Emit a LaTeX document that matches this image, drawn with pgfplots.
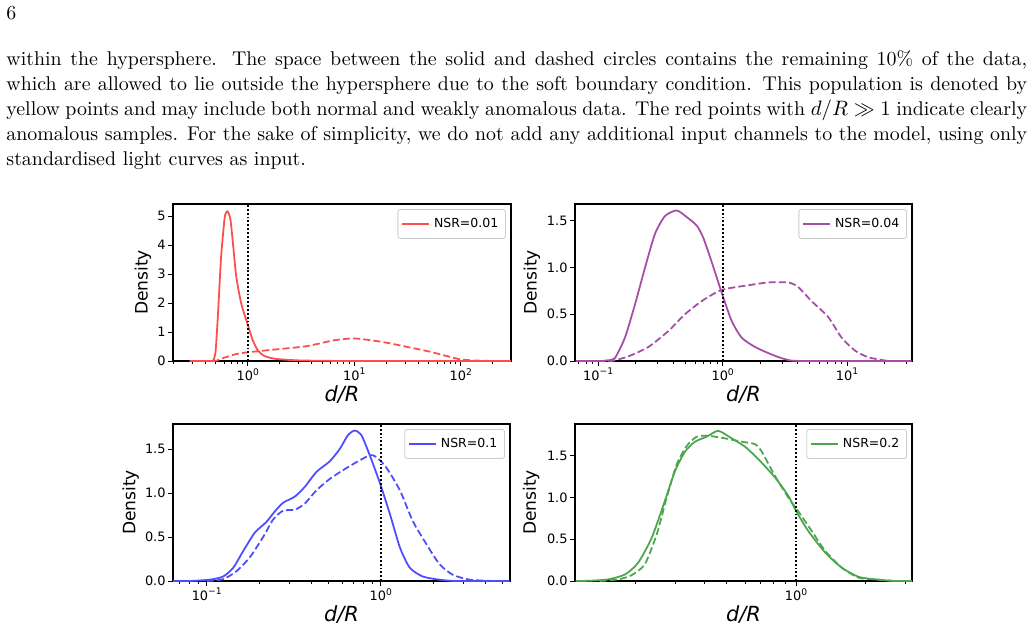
\documentclass[border=0pt]{standalone}
\usepackage{fontspec}
\usepackage{pgfplots}
\pgfplotsset{compat=1.18}
\newfontfamily\dv{DejaVu Sans}[ItalicFont={DejaVu Sans Oblique}]
\newfontfamily\dvi{DejaVu Sans Oblique}
\newcommand\tfont{\dv\fontsize{6.2}{7.4}\selectfont}
\newcommand\lfont{\dv\fontsize{8.2}{9.8}\selectfont}
\newcommand\gfont{\dv\fontsize{6}{7.2}\selectfont}
\newcommand\supr[1]{\raisebox{2.6pt}{\fontsize{4.4}{5}\selectfont #1}}
\definecolor{cred}{RGB}{255,77,77}
\definecolor{cpur}{RGB}{166,77,166}
\definecolor{cblue}{RGB}{77,77,255}
\definecolor{cgreen}{RGB}{77,166,77}
\pgfplotsset{
  panel/.style={
    scale only axis, height=75.36pt, ymin=0,
    axis line style={line width=0.6pt, black},
    every tick/.style={black, line width=0.45pt},
    major tick length=2.25pt, minor tick length=1.4pt,
    tick align=outside, tick pos=left,
    ticklabel style={font=\tfont},
    xticklabel style={yshift=2.3pt},
    yticklabel style={xshift=2.2pt},
    label style={font=\lfont},
    xlabel={\dvi d/R}, ylabel={Density},
    every axis x label/.style={at={(axis description cs:0.5,-0.215)}, anchor=center},
    legend style={at={(1,1)}, anchor=north east, xshift=-2.4pt, yshift=-2.4pt,
      draw=black!20, line width=0.4pt, rounded corners=1.2pt, font=\gfont,
      inner xsep=1.5pt, inner ysep=2pt, fill=white},
    legend cell align=left,
    legend image code/.code={\draw[##1] (0pt,0pt) -- (13pt,0pt);},
  },
  kde/.style={line width=0.85pt, smooth, tension=0.4},
  kded/.style={line width=0.85pt, smooth, tension=0.4, dash pattern=on 3.4pt off 1.5pt},
  vline/.style={black, line width=0.9pt, dash pattern=on 0.9pt off 0.95pt, forget plot},
}
\begin{document}
\begin{tikzpicture}
\useasboundingbox (0,0) rectangle (496.32pt,-302.4pt);
\node[anchor=base west, inner sep=0] at (2.88pt,-9.6pt) {\fontsize{9.55}{12}\selectfont 6};
\node[anchor=base west, inner sep=0] at (2.88pt,-31.44pt) {\parbox[t]{490pt}{\fontsize{9.55}{12}\selectfont\parindent=0pt\tolerance=10000
within the hypersphere. The space between the solid and dashed circles contains the remaining 10\% of the data,\linebreak
which are allowed to lie outside the hypersphere due to the soft boundary condition. This population is denoted by\linebreak
yellow points and may include both normal and weakly anomalous data. The red points with $d/R \gg 1$ indicate clearly\linebreak
anomalous samples. For the sake of simplicity, we do not add any additional input channels to the model, using only\linebreak
standardised light curves as input.}};

% Top left
\begin{semilogxaxis}[panel, at={(83.04pt,-173.28pt)}, anchor=south west, width=162.24pt,
  xmin=0.1988, xmax=296.6, ymax=5.414,
  xtick={1,10,100}, xticklabels={10\supr{0},10\supr{1},10\supr{2}},
  minor xtick={0.2,0.3,0.4,0.5,0.6,0.7,0.8,0.9,2,3,4,5,6,7,8,9,20,30,40,50,60,70,80,90,200},
  ytick={0,1,2,3,4,5}, yticklabels={0,1,2,3,4,5},
  ylabel style={at={(axis description cs:-0.089,0.5)}, anchor=center}]
\addplot[kde, cred] coordinates {(0.285,0) (0.40,0) (0.465,0.0) (0.48,0.05) (0.50,0.36) (0.526,1.62) (0.545,2.7) (0.565,3.69) (0.608,4.95) (0.643,5.16) (0.687,4.9) (0.728,4.03) (0.782,2.89) (0.871,1.97) (1.007,1.22) (1.12,0.70) (1.25,0.36) (1.44,0.17) (1.86,0.07) (3.08,0.02) (6,0.005) (10,0) (300,0)};
\addlegendentry{NSR=0.01}
\addplot[kded, cred, forget plot] coordinates {(0.3,0) (0.45,0) (0.507,0.01) (0.586,0.1) (0.782,0.24) (1.0,0.30) (1.73,0.39) (3.55,0.51) (6.37,0.71) (9.8,0.78) (14,0.72) (20.2,0.63) (31.1,0.49) (51.5,0.32) (73.9,0.17) (98.5,0.06) (131,0.02) (202,0.0)};
\addplot[vline] coordinates {(1,0) (1,5.414)};
\end{semilogxaxis}

% Top right
\begin{semilogxaxis}[panel, at={(276pt,-173.28pt)}, anchor=south west, width=161.76pt,
  xmin=0.0651, xmax=33.2, ymax=1.679,
  xtick={0.1,1,10}, xticklabels={10\supr{−1},10\supr{0},10\supr{1}},
  minor xtick={0.07,0.08,0.09,0.2,0.3,0.4,0.5,0.6,0.7,0.8,0.9,2,3,4,5,6,7,8,9,20,30},
  ytick={0,0.5,1,1.5}, yticklabels={0.0,0.5,1.0,1.5},
  ylabel style={at={(axis description cs:-0.128,0.5)}, anchor=center}]
\addplot[kde, cpur] coordinates {(0.066,0) (0.103,0.0) (0.12,0.008) (0.136,0.03) (0.164,0.25) (0.198,0.61) (0.238,1.0) (0.286,1.36) (0.344,1.55) (0.427,1.61) (0.513,1.54) (0.618,1.45) (0.698,1.32) (0.816,1.06) (0.982,0.73) (1.18,0.43) (1.42,0.25) (1.82,0.15) (2.47,0.07) (3.17,0.02) (4.3,0) (33,0)};
\addlegendentry{NSR=0.04}
\addplot[kded, cpur, forget plot] coordinates {(0.1,0) (0.128,0) (0.175,0.05) (0.253,0.15) (0.366,0.32) (0.498,0.50) (0.678,0.64) (0.98,0.76) (1.61,0.81) (2.32,0.84) (3.37,0.84) (4.05,0.79) (5.18,0.64) (7.05,0.47) (9.03,0.25) (11.6,0.11) (14.8,0.04) (20.1,0.005) (23,0)};
\addplot[vline] coordinates {(1,0) (1,1.679)};
\end{semilogxaxis}

% Bottom left
\begin{semilogxaxis}[panel, at={(83.04pt,-278.88pt)}, anchor=south west, width=161.76pt,
  xmin=0.0640, xmax=5.534, ymax=1.785,
  xtick={0.1,1}, xticklabels={10\supr{−1},10\supr{0}},
  minor xtick={0.07,0.08,0.09,0.2,0.3,0.4,0.5,0.6,0.7,0.8,0.9,2,3,4,5},
  ytick={0,0.5,1,1.5}, yticklabels={0.0,0.5,1.0,1.5},
  ylabel style={at={(axis description cs:-0.1255,0.5)}, anchor=center}]
\addplot[kde, cblue] coordinates {(0.064,0) (0.0798,0) (0.104,0.015) (0.124,0.05) (0.142,0.15) (0.162,0.34) (0.189,0.55) (0.220,0.67) (0.246,0.79) (0.275,0.89) (0.321,0.96) (0.366,1.07) (0.427,1.24) (0.509,1.36) (0.581,1.50) (0.649,1.66) (0.709,1.71) (0.774,1.66) (0.865,1.43) (0.987,1.12) (1.13,0.76) (1.29,0.38) (1.47,0.15) (1.75,0.05) (2.18,0.015) (2.72,0) (5.5,0)};
\addlegendentry{NSR=0.1}
\addplot[kded, cblue, forget plot] coordinates {(0.1,0) (0.124,0.02) (0.148,0.11) (0.177,0.27) (0.211,0.50) (0.241,0.70) (0.275,0.80) (0.321,0.81) (0.366,0.88) (0.427,1.03) (0.509,1.16) (0.607,1.26) (0.724,1.35) (0.865,1.43) (0.944,1.41) (1.077,1.29) (1.29,1.03) (1.53,0.68) (1.83,0.42) (2.18,0.19) (2.60,0.07) (3.25,0.015) (4.42,0)};
\addplot[vline] coordinates {(1,0) (1,1.785)};
\end{semilogxaxis}

% Bottom right
\begin{semilogxaxis}[panel, at={(276pt,-278.88pt)}, anchor=south west, width=161.76pt,
  xmin=0.1094, xmax=3.194, ymax=1.882,
  xtick={1}, xticklabels={10\supr{0}},
  minor xtick={0.2,0.3,0.4,0.5,0.6,0.7,0.8,0.9,2,3},
  ytick={0,0.5,1,1.5}, yticklabels={0.0,0.5,1.0,1.5},
  ylabel style={at={(axis description cs:-0.1304,0.5)}, anchor=center}]
\addplot[kde, cgreen] coordinates {(0.11,0) (0.127,0.003) (0.153,0.02) (0.181,0.08) (0.206,0.22) (0.236,0.52) (0.269,0.96) (0.298,1.32) (0.329,1.55) (0.364,1.67) (0.409,1.73) (0.459,1.80) (0.525,1.71) (0.6,1.61) (0.686,1.46) (0.811,1.24) (0.926,1.02) (1.0,0.84) (1.13,0.60) (1.34,0.34) (1.58,0.16) (1.87,0.05) (2.2,0.02) (2.69,0) (3.2,0)};
\addlegendentry{NSR=0.2}
\addplot[kded, cgreen, forget plot] coordinates {(0.14,0) (0.169,0.02) (0.193,0.07) (0.22,0.20) (0.248,0.56) (0.274,1.0) (0.303,1.40) (0.335,1.62) (0.37,1.73) (0.416,1.74) (0.491,1.71) (0.581,1.67) (0.663,1.64) (0.71,1.55) (0.81,1.26) (0.926,1.0) (1.02,0.84) (1.17,0.60) (1.34,0.36) (1.58,0.16) (1.87,0.04) (2.2,0.02) (2.69,0)};
\addplot[vline] coordinates {(1,0) (1,1.882)};
\end{semilogxaxis}
\end{tikzpicture}
\end{document}
